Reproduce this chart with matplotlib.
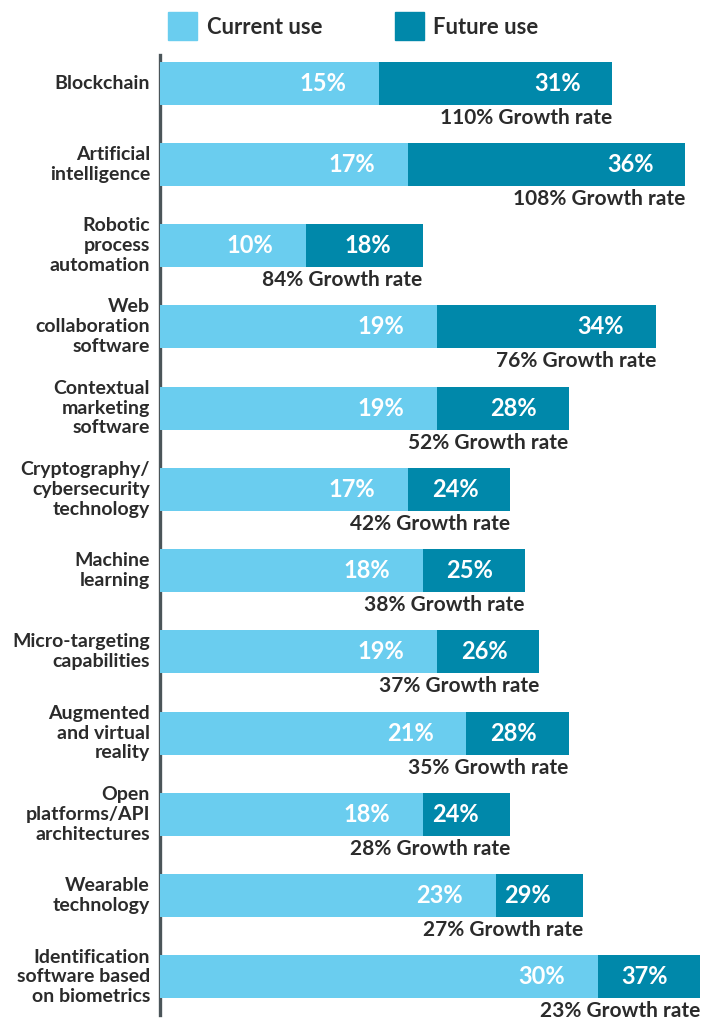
import matplotlib
matplotlib.use("Agg")
import matplotlib.pyplot as plt
from matplotlib.patches import Rectangle
from matplotlib.transforms import offset_copy

categories = [
    "Blockchain",
    "Artificial\nintelligence",
    "Robotic\nprocess\nautomation",
    "Web\ncollaboration\nsoftware",
    "Contextual\nmarketing\nsoftware",
    "Cryptography/\ncybersecurity\ntechnology",
    "Machine\nlearning",
    "Micro-targeting\ncapabilities",
    "Augmented\nand virtual\nreality",
    "Open\nplatforms/API\narchitectures",
    "Wearable\ntechnology",
    "Identification\nsoftware based\non biometrics",
]
current_use = [15, 17, 10, 19, 19, 17, 18, 19, 21, 18, 23, 30]
future_use = [31, 36, 18, 34, 28, 24, 25, 26, 28, 24, 29, 37]
growth_rate = [110, 108, 84, 76, 52, 42, 38, 37, 35, 28, 27, 23]

LIGHT = "#6ACDEF"
DARK = "#0088AA"
TEXT = "#2b2b2b"
AXIS = "#4b5559"
FONT = ["Lato", "DejaVu Sans"]

plt.rcParams["font.family"] = FONT

W, H = 708, 1021
fig = plt.figure(figsize=(W / 100, H / 100), dpi=100)
ax = fig.add_axes([160 / W, 1 - 1015 / H, 548 / W, (1015 - 55) / H])

n = len(categories)
ypos = list(range(n))
bh = 0.53

ax.barh(ypos, future_use, height=bh, color=DARK, zorder=2)
ax.barh(ypos, current_use, height=bh, color=LIGHT, zorder=3)

ax.set_xlim(0, 37.55)
ax.set_ylim(n - 1 + 0.47, -0.345)

for s in ["top", "right", "bottom"]:
    ax.spines[s].set_visible(False)
ax.spines["left"].set_color(AXIS)
ax.spines["left"].set_linewidth(2.4)
ax.set_xticks([])
ax.set_yticks([])

for i, (c, f, g) in enumerate(zip(current_use, future_use, growth_rate)):
    t_c = offset_copy(ax.transData, fig=fig, x=-33, y=0, units="dots")
    ax.text(c, i, f"{c}%", transform=t_c, ha="right", va="center",
            color="white", fontsize=17, fontweight="bold", zorder=5)
    t_f = offset_copy(ax.transData, fig=fig, x=-32, y=0, units="dots")
    ax.text(f, i, f"{f}%", transform=t_f, ha="right", va="center",
            color="white", fontsize=17, fontweight="bold", zorder=5)
    t_g = offset_copy(ax.transData, fig=fig, x=0, y=-3, units="dots")
    ax.text(f, i + bh / 2, f"{g}% Growth rate", transform=t_g, ha="right",
            va="top", color=TEXT, fontsize=15, fontweight="bold",
            zorder=5, clip_on=False)
    t_l = offset_copy(ax.transData, fig=fig, x=-10, y=0, units="dots")
    ax.text(0, i, categories[i], transform=t_l, ha="right", va="center",
            color=TEXT, fontsize=14, fontweight="bold",
            linespacing=1.2, multialignment="right", clip_on=False)

# legend
fig.patches.append(Rectangle((168 / W, 1 - 40 / H), 29 / W, 28 / H,
                             transform=fig.transFigure, color=LIGHT))
fig.text(207 / W, 1 - 27 / H, "Current use", ha="left", va="center",
         color=TEXT, fontsize=15.8, fontweight="bold")
fig.patches.append(Rectangle((395 / W, 1 - 40 / H), 29 / W, 28 / H,
                             transform=fig.transFigure, color=DARK))
fig.text(433 / W, 1 - 27 / H, "Future use", ha="left", va="center",
         color=TEXT, fontsize=15.8, fontweight="bold")

fig.savefig("out.png", dpi=100, facecolor="white")
